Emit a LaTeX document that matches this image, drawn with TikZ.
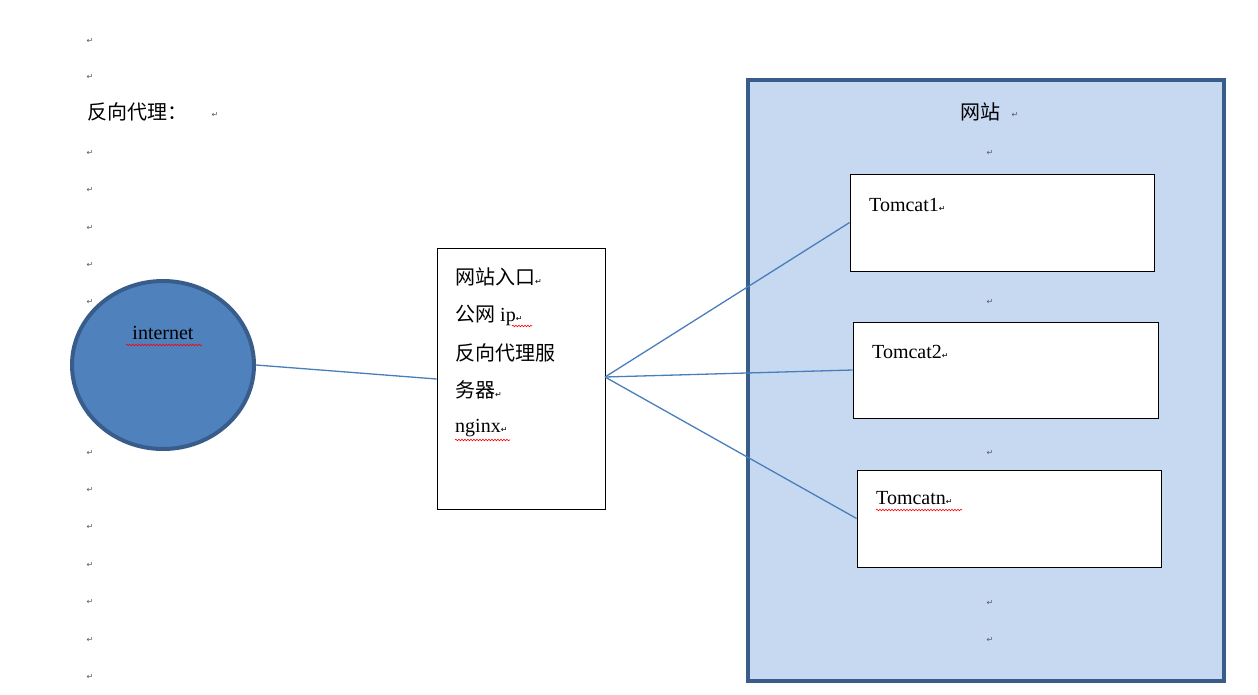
\documentclass[tikz,border=0pt]{standalone}
\usepackage{fontspec}
\setmainfont{Liberation Serif}
\newfontfamily\cjk{Noto Sans CJK SC}
\newfontfamily\sym{DejaVu Sans}
\usetikzlibrary{decorations.pathmorphing,shapes.geometric}
\definecolor{blueline}{HTML}{4A7EBB}
\definecolor{darkb}{HTML}{385D8A}
\definecolor{circfill}{HTML}{4F81BD}
\definecolor{bgfill}{HTML}{C6D9F1}
\tikzset{
  txt/.style={font=\fontsize{20}{22}\selectfont, anchor=west, inner sep=0pt},
  pm/.style={font=\sym\fontsize{8}{9}\selectfont, text=gray!70!black, inner sep=0pt},
  conn/.style={draw=blueline, line width=1.3pt},
  wbox/.style={draw=black, fill=white, line width=0.8pt},
  squig/.style={draw=red, line width=0.6pt, decorate, decoration={snake, amplitude=0.8pt, segment length=3pt}}
}
\begin{document}
\begin{tikzpicture}[x=1pt,y=-1pt]
\useasboundingbox (0,0) rectangle (1258,694);
% left paragraph marks
\foreach \y/\n in {41/a,77/b,153/c,190/d,228/e,265/f,302/g,415/h,453/i,490/j,527/k,565/l,602/m,640/n,677/o}
  \node[pm] (pm\n) at (90,\y) {↵};
\node[txt] (title) at (87,112) {\cjk 反向代理：};
\node[pm] (pmt) at (215,115) {↵};
% website container
\draw[draw=darkb, fill=bgfill, line width=4pt] (748,80) rectangle (1224,681);
\node[txt, anchor=center] (site) at (980,112) {\cjk 网站};
\node[pm] (pmsite) at (1015,115) {↵};
\foreach \y/\n in {153/a,302/b,453/c,603/d,640/e}
  \node[pm] (rp\n) at (990,\y) {↵};
% internet
\node[draw=darkb, fill=circfill, line width=4pt, ellipse, minimum width=182pt, minimum height=168pt, inner sep=0pt] (inet) at (163,365) {};
\node[txt, anchor=center] (inettxt) at (163,333) {internet};
\draw[squig] (126,345) -- (202,345);
% proxy box
\node[wbox, minimum width=168pt, minimum height=261pt, inner sep=0pt] (proxy) at (521,378.5) {};
\node[txt] (p1) at (455,277) {\cjk 网站入口\sym\fontsize{8}{9}\selectfont ↵};
\node[txt] (p2) at (455,315) {{\cjk 公网} ip{\sym\fontsize{8}{9}\selectfont ↵}};
\draw[squig] (512,326) -- (532,326);
\node[txt] (p3) at (455,353) {\cjk 反向代理服};
\node[txt] (p4) at (455,390) {\cjk 务器\sym\fontsize{8}{9}\selectfont ↵};
\node[txt] (p5) at (455,428) {nginx{\sym\fontsize{8}{9}\selectfont ↵}};
\draw[squig] (455,440) -- (510,440);
% tomcats
\node[wbox, minimum width=304pt, minimum height=97pt, inner sep=0pt] (t1) at (1002,222.5) {};
\node[wbox, minimum width=305pt, minimum height=96pt, inner sep=0pt] (t2) at (1005.5,370) {};
\node[wbox, minimum width=304pt, minimum height=97pt, inner sep=0pt] (t3) at (1009,518.5) {};
\node[txt] (t1l) at (869,205) {Tomcat1{\sym\fontsize{8}{9}\selectfont ↵}};
\node[txt] (t2l) at (872,352) {Tomcat2{\sym\fontsize{8}{9}\selectfont ↵}};
\node[txt] (t3l) at (876,498) {Tomcatn{\sym\fontsize{8}{9}\selectfont ↵}};
\draw[squig] (876,510) -- (962,510);
% connectors
\coordinate (pr) at (605,377);
\draw[conn] (inet.east) -- (proxy.west |- 0,379);
\draw[conn] (pr) -- (t1.west);
\draw[conn] (pr) -- (t2.west);
\draw[conn] (pr) -- (t3.west);
\end{tikzpicture}
\end{document}
